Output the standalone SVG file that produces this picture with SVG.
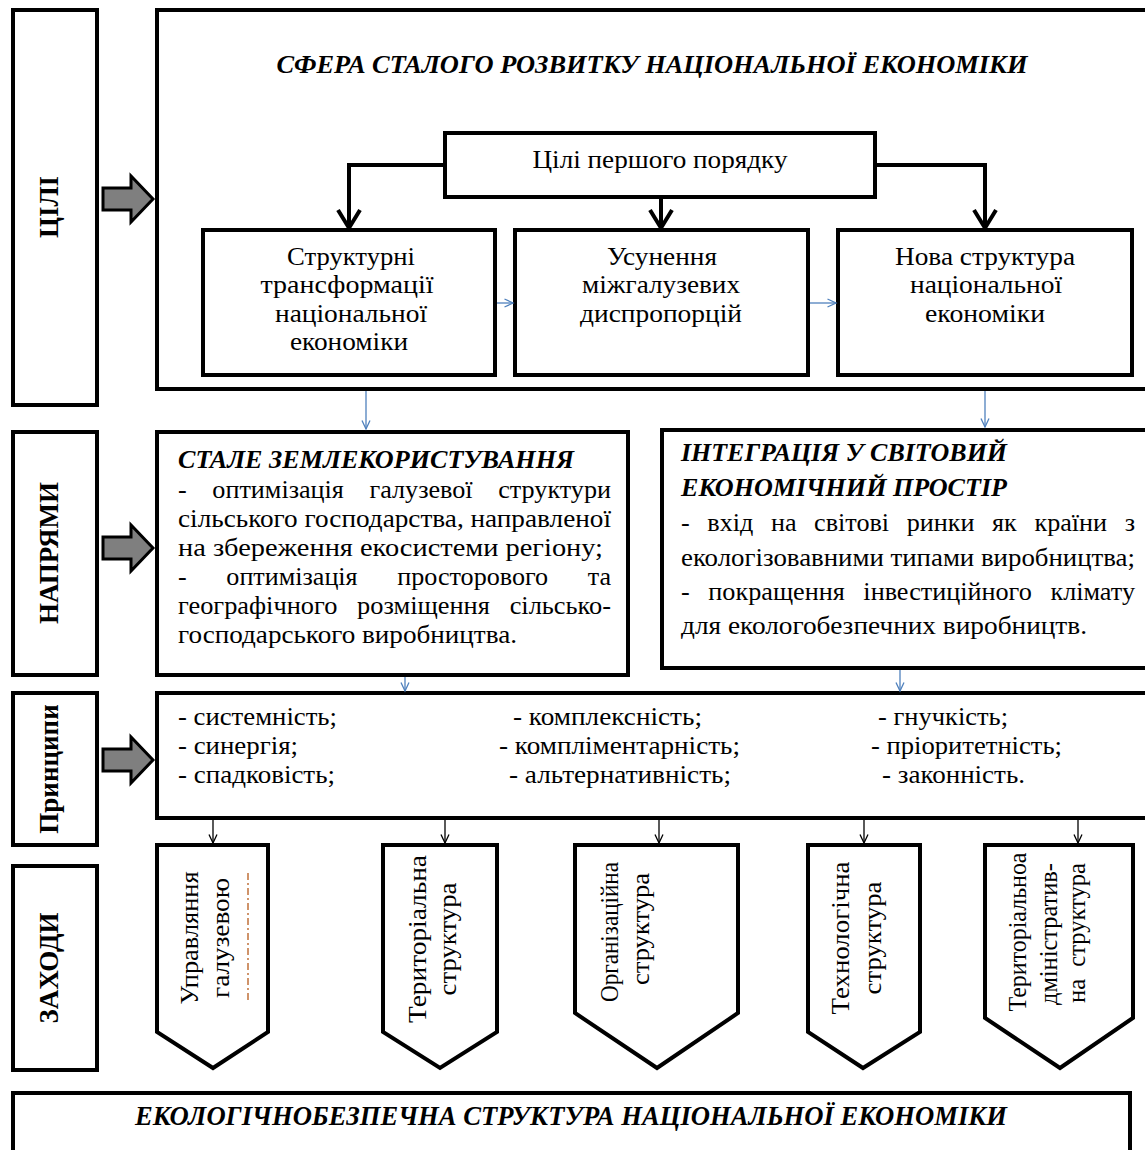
<svg xmlns="http://www.w3.org/2000/svg" width="1145" height="1150" viewBox="0 0 1145 1150">
<defs>
<style>
.box{fill:#fff;stroke:#000;stroke-width:4}
.t{font-family:"Liberation Serif","Times New Roman",serif;font-size:26px;fill:#000}
.bi{font-weight:bold;font-style:italic}
.c{text-anchor:middle}
.lbl{font-family:"Liberation Serif","Times New Roman",serif;font-size:27px;font-weight:bold;text-anchor:middle;fill:#000}
.v{font-family:"Liberation Serif","Times New Roman",serif;font-size:25px;text-anchor:middle;fill:#000}
.thick{fill:none;stroke:#000;stroke-width:4;marker-end:url(#mThick)}
.blue{fill:none;stroke:#4f81bd;stroke-width:1.3;marker-end:url(#mBlue)}
.thin{fill:none;stroke:#000;stroke-width:1.3;marker-end:url(#mThin)}
.fat{fill:#7f7f7f;stroke:#000;stroke-width:3}
</style>
<marker id="mThick" markerUnits="userSpaceOnUse" viewBox="0 0 24 24" refX="21" refY="12" markerWidth="24" markerHeight="24" orient="auto" overflow="visible"><path d="M3,1 L21,12 L3,23" fill="none" stroke="#000" stroke-width="4"/></marker>
<marker id="mBlue" markerUnits="userSpaceOnUse" viewBox="0 0 10 10" refX="9.5" refY="5" markerWidth="10" markerHeight="10" orient="auto" overflow="visible"><path d="M1,1 L9.5,5 L1,9" fill="none" stroke="#4f81bd" stroke-width="1.3"/></marker>
<marker id="mThin" markerUnits="userSpaceOnUse" viewBox="0 0 10 10" refX="9.5" refY="5" markerWidth="10" markerHeight="10" orient="auto" overflow="visible"><path d="M1,1 L9.5,5 L1,9" fill="none" stroke="#000" stroke-width="1.3"/></marker>
<path id="fatArrow" class="fat" d="M0,-11 H28 V-23 L50,0 L28,23 V11 H0 Z"/>
</defs>
<rect width="1145" height="1150" fill="#fff"/>

<!-- Left labels -->
<g id="label-goals">
<rect class="box" x="13" y="10" width="84" height="395"/>
<text class="lbl" transform="translate(58,207) rotate(-90)">ЦІЛІ</text>
</g>
<g id="label-directions">
<rect class="box" x="13" y="432" width="84" height="243"/>
<text class="lbl" transform="translate(58,553) rotate(-90)">НАПРЯМИ</text>
</g>
<g id="label-principles">
<rect class="box" x="13" y="693" width="84" height="152"/>
<text class="lbl" transform="translate(58,769) rotate(-90)">Принципи</text>
</g>
<g id="label-measures">
<rect class="box" x="13" y="866" width="84" height="204"/>
<text class="lbl" transform="translate(58,968) rotate(-90)">ЗАХОДИ</text>
</g>

<!-- Fat arrows -->
<g id="fat-arrows">
<use href="#fatArrow" x="103" y="199"/>
<use href="#fatArrow" x="103" y="548"/>
<use href="#fatArrow" x="103" y="760"/>
</g>

<!-- Top sphere -->
<g id="sphere">
<rect class="box" x="157" y="10" width="1010" height="379"/>
<text class="t bi c" x="652" y="73" style="font-size:25px" textLength="751" lengthAdjust="spacingAndGlyphs">СФЕРА СТАЛОГО РОЗВИТКУ НАЦІОНАЛЬНОЇ ЕКОНОМІКИ</text>
</g>
<g id="first-order-goals">
<rect class="box" x="445" y="133" width="430" height="64"/>
<text class="t c" x="660" y="168" textLength="255" lengthAdjust="spacingAndGlyphs">Цілі першого порядку</text>
</g>
<g id="goal-structural">
<rect class="box" x="203" y="230" width="292" height="145"/>
<text class="t c" x="351" y="265" textLength="128" lengthAdjust="spacingAndGlyphs">Структурні</text>
<text class="t c" x="347" y="293" textLength="173" lengthAdjust="spacingAndGlyphs">трансформації</text>
<text class="t c" x="351" y="322" textLength="152" lengthAdjust="spacingAndGlyphs">національної</text>
<text class="t c" x="349" y="350" textLength="118" lengthAdjust="spacingAndGlyphs">економіки</text>
</g>
<g id="goal-disproportions">
<rect class="box" x="515" y="230" width="293" height="145"/>
<text class="t c" x="662" y="265" textLength="110" lengthAdjust="spacingAndGlyphs">Усунення</text>
<text class="t c" x="661" y="293" textLength="158" lengthAdjust="spacingAndGlyphs">міжгалузевих</text>
<text class="t c" x="661" y="322" textLength="162" lengthAdjust="spacingAndGlyphs">диспропорцій</text>
</g>
<g id="goal-new-structure">
<rect class="box" x="838" y="230" width="294" height="145"/>
<text class="t c" x="985" y="265" textLength="180" lengthAdjust="spacingAndGlyphs">Нова структура</text>
<text class="t c" x="986" y="293" textLength="152" lengthAdjust="spacingAndGlyphs">національної</text>
<text class="t c" x="985" y="322" textLength="120" lengthAdjust="spacingAndGlyphs">економіки</text>
</g>

<!-- Directions -->
<g id="dir-land">
<rect class="box" x="157" y="432" width="471" height="243"/>
<text class="t bi" x="178" y="468" textLength="396" lengthAdjust="spacingAndGlyphs">СТАЛЕ ЗЕМЛЕКОРИСТУВАННЯ</text>
<text class="t" x="178" y="498" style="word-spacing:19px" textLength="433" lengthAdjust="spacingAndGlyphs">- оптимізація галузевої структури</text>
<text class="t" x="178" y="527" textLength="433" lengthAdjust="spacingAndGlyphs">сільського господарства, направленої</text>
<text class="t" x="178" y="556" textLength="425" lengthAdjust="spacingAndGlyphs">на збереження екосистеми регіону;</text>
<text class="t" x="178" y="585" style="word-spacing:33px" textLength="433" lengthAdjust="spacingAndGlyphs">- оптимізація просторового та</text>
<text class="t" x="178" y="614" style="word-spacing:13px" textLength="433" lengthAdjust="spacingAndGlyphs">географічного розміщення сільсько-</text>
<text class="t" x="178" y="643" textLength="339" lengthAdjust="spacingAndGlyphs">господарського виробництва.</text>
</g>
<g id="dir-integration">
<rect class="box" x="662" y="430" width="505" height="238"/>
<text class="t bi" x="681" y="461" textLength="326" lengthAdjust="spacingAndGlyphs">ІНТЕГРАЦІЯ У СВІТОВИЙ</text>
<text class="t bi" x="681" y="496" textLength="326" lengthAdjust="spacingAndGlyphs">ЕКОНОМІЧНИЙ ПРОСТІР</text>
<text class="t" x="681" y="531" style="word-spacing:11px" textLength="454" lengthAdjust="spacingAndGlyphs">- вхід на світові ринки як країни з</text>
<text class="t" x="681" y="566" textLength="454" lengthAdjust="spacingAndGlyphs">екологізовавними типами виробництва;</text>
<text class="t" x="681" y="600" style="word-spacing:12px" textLength="454" lengthAdjust="spacingAndGlyphs">- покращення інвестиційного клімату</text>
<text class="t" x="681" y="634" textLength="406" lengthAdjust="spacingAndGlyphs">для екологобезпечних виробництв.</text>
</g>

<!-- Principles -->
<g id="principles">
<rect class="box" x="157" y="693" width="1010" height="125"/>
<text class="t" x="178" y="725" textLength="159" lengthAdjust="spacingAndGlyphs">- системність;</text>
<text class="t" x="178" y="754" textLength="120" lengthAdjust="spacingAndGlyphs">- синергія;</text>
<text class="t" x="178" y="783" textLength="157" lengthAdjust="spacingAndGlyphs">- спадковість;</text>
<text class="t" x="513" y="725" textLength="189" lengthAdjust="spacingAndGlyphs">- комплексність;</text>
<text class="t" x="499" y="754" textLength="241" lengthAdjust="spacingAndGlyphs">- компліментарність;</text>
<text class="t" x="509" y="783" textLength="222" lengthAdjust="spacingAndGlyphs">- альтернативність;</text>
<text class="t" x="878" y="725" textLength="130" lengthAdjust="spacingAndGlyphs">- гнучкість;</text>
<text class="t" x="871" y="754" textLength="191" lengthAdjust="spacingAndGlyphs">- пріоритетність;</text>
<text class="t" x="882" y="783" textLength="143" lengthAdjust="spacingAndGlyphs">- законність.</text>
</g>

<!-- Measures -->
<g id="measure-branch">
<path class="box" d="M157,845 H268 V1032 L213,1068 L157,1032 Z"/>
<text class="v" transform="translate(198,938) rotate(-90)" textLength="133" lengthAdjust="spacingAndGlyphs">Управляння</text>
<text class="v" transform="translate(229,938) rotate(-90)" textLength="120" lengthAdjust="spacingAndGlyphs">галузевою</text>
<line x1="248" y1="873" x2="248" y2="1002" stroke="#c0703a" stroke-width="1.5" stroke-dasharray="7 3 2 3"/>
</g>
<g id="measure-territorial">
<path class="box" d="M383,845 H497 V1032 L440,1068 L383,1032 Z"/>
<text class="v" transform="translate(426,939) rotate(-90)" textLength="168" lengthAdjust="spacingAndGlyphs">Територіальна</text>
<text class="v" transform="translate(456,939) rotate(-90)" textLength="113" lengthAdjust="spacingAndGlyphs">структура</text>
</g>
<g id="measure-organizational">
<path class="box" d="M575,845 H738 V1013 L657,1068 L575,1013 Z"/>
<text class="v" transform="translate(618,932) rotate(-90)" textLength="140" lengthAdjust="spacingAndGlyphs">Організаційна</text>
<text class="v" transform="translate(649,929) rotate(-90)" textLength="112" lengthAdjust="spacingAndGlyphs">структура</text>
</g>
<g id="measure-technological">
<path class="box" d="M808,845 H920 V1032 L863,1068 L808,1032 Z"/>
<text class="v" transform="translate(849,938) rotate(-90)" textLength="153" lengthAdjust="spacingAndGlyphs">Технологічна</text>
<text class="v" transform="translate(881,938) rotate(-90)" textLength="113" lengthAdjust="spacingAndGlyphs">структура</text>
</g>
<g id="measure-administrative">
<path class="box" d="M985,845 H1133 V1018 L1060,1068 L985,1018 Z"/>
<text class="v" transform="translate(1026,932) rotate(-90)" textLength="159" lengthAdjust="spacingAndGlyphs">Територіальноа</text>
<text class="v" transform="translate(1057,934) rotate(-90)" textLength="142" lengthAdjust="spacingAndGlyphs">дміністратив-</text>
<text class="v" xml:space="preserve" transform="translate(1085,933) rotate(-90)" textLength="140" lengthAdjust="spacingAndGlyphs">на  структура</text>
</g>

<!-- Result -->
<g id="result">
<rect class="box" x="13" y="1093" width="1117" height="80"/>
<text class="t bi c" x="571" y="1125" style="font-size:28px" textLength="872" lengthAdjust="spacingAndGlyphs">ЕКОЛОГІЧНОБЕЗПЕЧНА СТРУКТУРА НАЦІОНАЛЬНОЇ ЕКОНОМІКИ</text>
</g>

<!-- Connectors -->
<g id="connectors">
<path class="thick" d="M445,165 H349 V228"/>
<path class="thick" d="M661,197 V228"/>
<path class="thick" d="M875,165 H985 V228"/>
<path class="blue" d="M497,303 H513"/>
<path class="blue" d="M810,303 H836"/>
<path class="blue" d="M366,391 V429"/>
<path class="blue" d="M985,391 V427"/>
<path class="blue" d="M405,677 V691"/>
<path class="blue" d="M900,670 V691"/>
<path class="thin" d="M213,820 V843"/>
<path class="thin" d="M445,820 V843"/>
<path class="thin" d="M659,820 V843"/>
<path class="thin" d="M864,820 V843"/>
<path class="thin" d="M1078,820 V843"/>
</g>
</svg>
